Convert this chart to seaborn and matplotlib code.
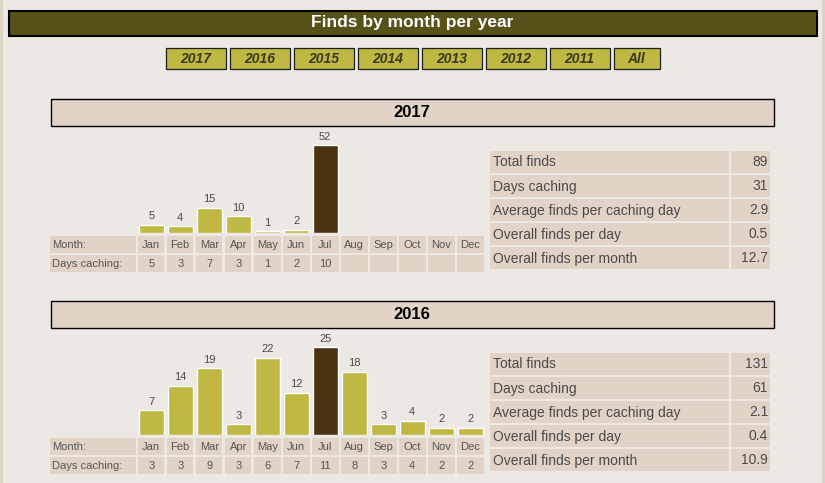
import numpy as np
import pandas as pd
import matplotlib
matplotlib.use("Agg")
import matplotlib.pyplot as plt
from matplotlib.patches import Rectangle
import seaborn as sns

# ---------------- data ----------------
title = "Finds by month per year"
buttons = ["2017", "2016", "2015", "2014", "2013", "2012", "2011", "All"]
months = ["Jan", "Feb", "Mar", "Apr", "May", "Jun", "Jul", "Aug", "Sep", "Oct", "Nov", "Dec"]
years = ["2017", "2016"]
finds_2017 = [5, 4, 15, 10, 1, 2, 52, None, None, None, None, None]
days_2017 = [5, 3, 7, 3, 1, 2, 10, None, None, None, None, None]
finds_2016 = [7, 14, 19, 3, 22, 12, 25, 18, 3, 4, 2, 2]
days_2016 = [3, 3, 9, 3, 6, 7, 11, 8, 3, 4, 2, 2]
stat_labels = ["Total finds", "Days caching", "Average finds per caching day",
               "Overall finds per day", "Overall finds per month"]
stats_2017 = ["89", "31", "2.9", "0.5", "12.7"]
stats_2016 = ["131", "61", "2.1", "0.4", "10.9"]
finds = {"2017": finds_2017, "2016": finds_2016}
days = {"2017": days_2017, "2016": days_2016}
stats = {"2017": stats_2017, "2016": stats_2016}

# ---------------- style ----------------
sns.set_theme(style="white")
plt.rcParams["font.family"] = ["Liberation Sans", "DejaVu Sans"]

BG = "#ECE8E4"
STRIP = "#DDD2C6"
TITLE_BG = "#575219"
BTN = "#BFB944"
BTN_TXT = "#3A391C"
CELL = "#E1D4C7"
OLIVE = "#BFB843"
BROWN = "#4B3213"
TXT = "#4A4A4A"
TXT2 = "#555555"

W, H = 825, 483
fig = plt.figure(figsize=(W / 100, H / 100), dpi=100)
fig.patch.set_facecolor(BG)
page = fig.add_axes([0, 0, 1, 1])
page.set_xlim(0, W)
page.set_ylim(H, 0)
page.axis("off")
page.set_zorder(0)


def rect(x, y, w, h, fc, ec="none", lw=0.0):
    page.add_patch(Rectangle((x, y), w, h, facecolor=fc, edgecolor=ec, linewidth=lw))


# page side strips
rect(0, 0, 2.5, H, STRIP)
rect(822, 0, 3, H, STRIP)

# title bar
rect(8.5, 10.5, 808, 25.5, TITLE_BG, "black", 1.5)
page.text(412.5, 23, title, ha="center", va="center", color="white",
          fontsize=12.5, fontweight="bold")

# buttons
widths = [60 if len(b) == 4 else 46 for b in buttons]
total = sum(widths) + 4 * (len(buttons) - 1)
x = 412.5 - total / 2
for b, w in zip(buttons, widths):
    rect(x, 48, w, 21, BTN, "#1E1E10", 0.9)
    page.text(x + w / 2, 58.8, b, ha="center", va="center", color=BTN_TXT,
              fontsize=10, fontweight="bold", fontstyle="italic")
    x += w + 4

# year sections
pitch = 29.0
left0 = 136.7
for k, yr in enumerate(years):
    off = 202 * k
    # header
    rect(50.5, 98.5 + off, 723, 27.5, CELL, "black", 1.0)
    page.text(412, 112.5 + off, yr, ha="center", va="center", color="black",
              fontsize=12, fontweight="bold")

    base = 233.0 + off
    df = pd.DataFrame({"month": months, "finds": finds[yr]}).dropna()
    peak = df["finds"].max()
    df["kind"] = np.where(df["finds"] == peak, "peak", "normal")

    ax = fig.add_axes([left0 / W, 1 - base / H, 12 * pitch / W, 100 / H])
    ax.set_zorder(2)
    sns.barplot(data=df, x="month", y="finds", hue="kind", order=months,
                palette={"normal": OLIVE, "peak": BROWN}, dodge=False,
                width=0.86, saturation=1, errorbar=None, legend=False, ax=ax)
    ax.set_xlim(-0.5, 11.5)
    ax.set_ylim(0, peak * 100 / 88)
    ax.axis("off")
    ax.patch.set_alpha(0)
    for c in ax.containers:
        ax.bar_label(c, fmt="%g", padding=2.5, fontsize=8, color=TXT)

    # month / days table
    r1, r2 = base + 3, base + 22
    rect(50, r1, 85.7, 17, CELL)
    rect(50, r2, 85.7, 17, CELL)
    page.text(52, r1 + 8.8, "Month:", ha="left", va="center", fontsize=8, color=TXT2)
    page.text(52, r2 + 8.8, "Days caching:", ha="left", va="center", fontsize=8, color=TXT2)
    for i, m in enumerate(months):
        cx = left0 + pitch / 2 + pitch * i
        rect(cx - 13.3, r1, 26.6, 17, CELL)
        rect(cx - 13.3, r2, 26.6, 17, CELL)
        page.text(cx, r1 + 8.8, m, ha="center", va="center", fontsize=8, color=TXT2)
        d = days[yr][i]
        if d is not None:
            page.text(cx, r2 + 8.8, f"{d:g}", ha="center", va="center",
                      fontsize=8, color=TXT2)

    # stats table
    for j, (lab, val) in enumerate(zip(stat_labels, stats[yr])):
        top = 151 + off + 24 * j
        rect(490, top, 238.5, 22, CELL)
        rect(731, top, 39, 22, CELL)
        page.text(493, top + 11.5, lab, ha="left", va="center", fontsize=10, color=TXT)
        page.text(768, top + 11.5, val, ha="right", va="center", fontsize=10, color=TXT)

fig.savefig("out.png", dpi=100, facecolor=BG)
